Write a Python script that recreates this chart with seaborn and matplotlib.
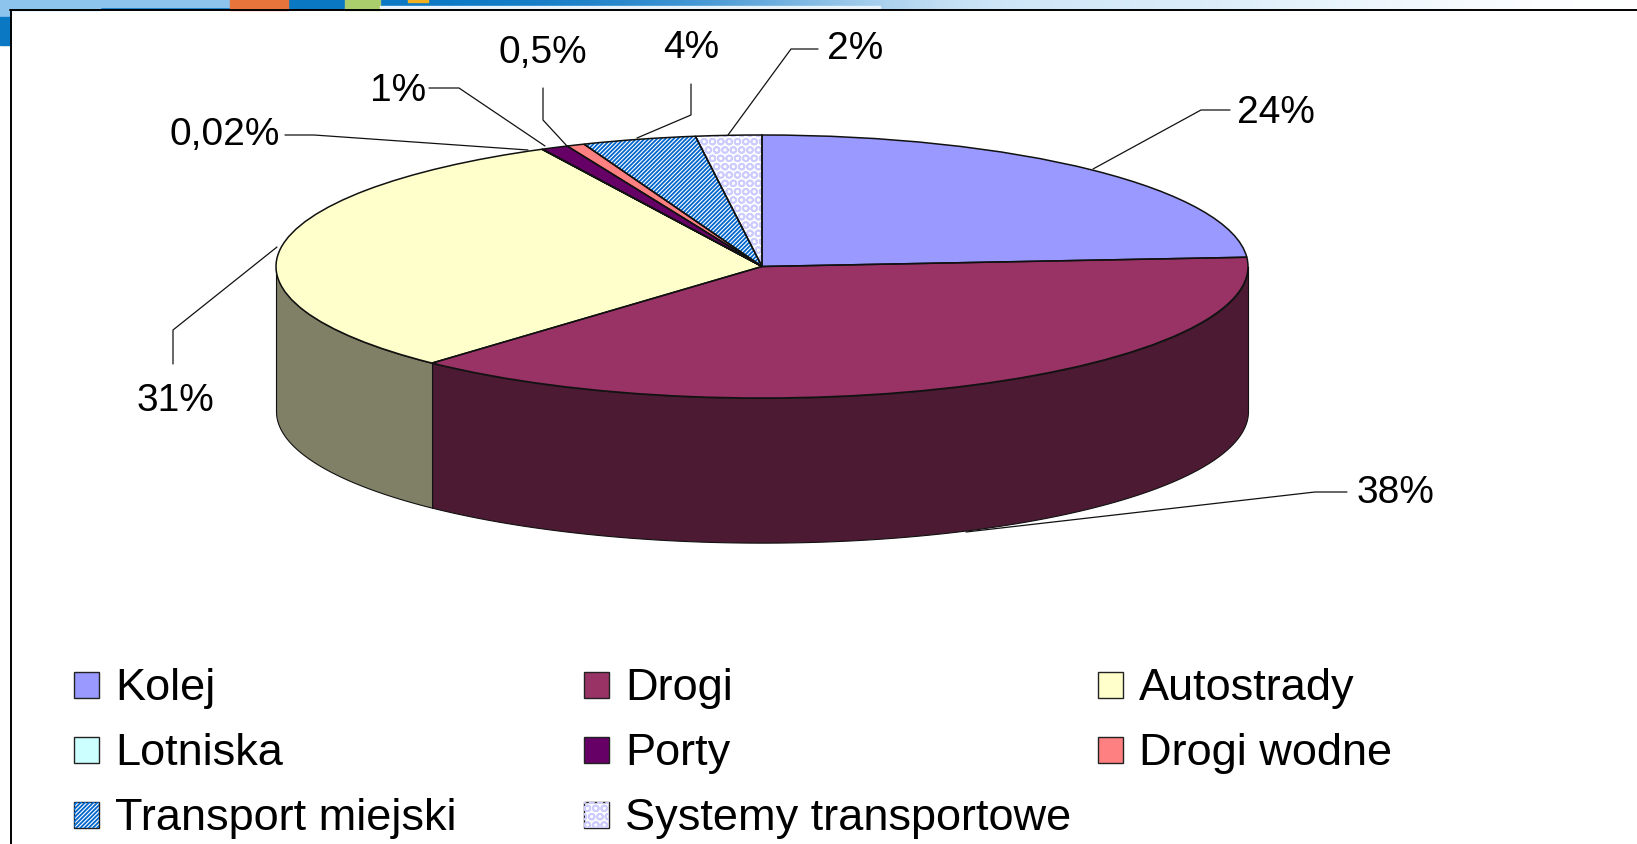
"""Pseudo-3D pie chart of transport spending shares."""
import numpy as np
import matplotlib.pyplot as plt
from matplotlib.colors import to_rgb
from matplotlib.patches import Rectangle
import seaborn as sns

WIDTH, HEIGHT = 1637, 845

CATEGORIES = ['Kolej', 'Drogi', 'Autostrady', 'Lotniska', 'Porty', 'Drogi wodne',
              'Transport miejski', 'Systemy transportowe']
# slice sizes, the printed labels are rounded
VALUES = [24, 38.2, 30.8, 0.02, 0.9, 0.6, 3.8, 2.2]
VALUE_LABELS = ['24%', '38%', '31%', '0,02%', '1%', '0,5%', '4%', '2%']
COLORS = ['#9999FF', '#993366', '#FFFFCC', '#CCFFFF', '#660066', '#FF8080', '#FFFFFF', '#FFFFFF']
HATCH_COLORS = [None, None, None, None, None, None, '#0066CC', '#CCCCFF']
HATCHES = [None, None, None, None, None, None, '////////', 'OO']

# label centre and leader line, in pixels from the top left
LABEL_POS = [(1276, 113), (1395, 493), (175, 401), (225, 135),
             (398, 91), (543, 53), (691, 48), (855, 49)]
LEADERS = [
    [(1093, 170), (1201, 111), (1230, 111)],
    [(966, 533), (1315, 493), (1347, 493)],
    [(277, 248), (173, 331), (173, 365)],
    [(285, 136), (314, 136), (528, 151)],
    [(429, 89), (459, 89), (545, 147)],
    [(543, 89), (543, 121), (567, 147)],
    [(691, 85), (691, 116), (637, 139)],
    [(728, 136), (791, 50), (818, 50)],
]
LEGEND_COLS = [74, 584, 1098]
LEGEND_ROWS = [686, 751, 816]

CENTER_X, CENTER_Y = 762, 267.5
RADIUS_X, RADIUS_Y = 486, 131.5
DEPTH = 1.10


def px_axes(fig):
    """Full figure axes working in image pixels."""
    ax = fig.add_axes([0, 0, 1, 1], zorder=3)
    ax.set_xlim(0, WIDTH)
    ax.set_ylim(HEIGHT, 0)
    ax.axis('off')
    ax.patch.set_alpha(0)
    return ax


def draw_banner(ax):
    """Slide background peeking out above and left of the chart frame."""
    ramp = np.array([[to_rgb(c) for c in ['#0B78C4', '#0B78C4', '#0B78C4', '#3D93D2', '#D2E8F8',
                                          '#D2E8F8', '#E8F4FC', '#FFFFFF']]])
    ax.imshow(ramp, extent=(0, WIDTH, 11, 0), aspect='auto', interpolation='bicubic', zorder=0)
    ax.add_patch(Rectangle((0, 0), 230, 8, color='#8CC4EE', zorder=1))
    ax.add_patch(Rectangle((0, 8), 100, 3, color='#8CC4EE', zorder=1))
    ax.add_patch(Rectangle((230, 0), 58, 11, color='#E8743B', zorder=1))
    ax.add_patch(Rectangle((345, 0), 35, 11, color='#A9CE6B', zorder=1))
    ax.add_patch(Rectangle((408, 0), 20, 3, color='#F0B020', zorder=1))
    ax.add_patch(Rectangle((380, 7), 500, 4, color='#E6F3FC', zorder=1))
    ax.add_patch(Rectangle((0, 11), 10, 7, color='#8CC4EE', zorder=1))
    ax.add_patch(Rectangle((0, 18), 10, 28, color='#0B78C4', zorder=1))
    ax.set_xlim(0, WIDTH)
    ax.set_ylim(HEIGHT, 0)
    ax.plot([10, WIDTH], [11, 11], color='black', lw=1.4, zorder=2)
    ax.plot([11, 11], [11, HEIGHT], color='black', lw=1.4, zorder=2)


def draw_pie(ax):
    """Top of the pie plus the darker side wall."""
    wedges, _ = ax.pie(VALUES, colors=COLORS, startangle=90, counterclock=False,
                       wedgeprops={'linewidth': 0, 'zorder': 3})
    for wedge, hatch, h_color in zip(wedges, HATCHES, HATCH_COLORS):
        if hatch:
            wedge.set_hatch(hatch)
            wedge.set_edgecolor(h_color)
    ax.pie(VALUES, colors=COLORS, startangle=90, counterclock=False,
           wedgeprops={'linewidth': 1.1, 'fill': False, 'edgecolor': '#111111', 'zorder': 4})

    # only the front half of the rim shows
    for wedge, color in zip(wedges, COLORS):
        lo, hi = max(wedge.theta1, -180), min(wedge.theta2, 0)
        if hi <= lo:
            continue
        theta = np.radians(np.linspace(lo, hi, 120))
        dark = np.array(to_rgb(color)) * 0.5
        ax.fill_between(np.cos(theta), np.sin(theta), np.sin(theta) - DEPTH,
                        facecolor=dark, edgecolor='#111111', linewidth=0.8, zorder=2)

    ax.set_aspect('auto')
    ax.set_xlim(-CENTER_X / RADIUS_X, (WIDTH - CENTER_X) / RADIUS_X)
    ax.set_ylim((CENTER_Y - HEIGHT) / RADIUS_Y, CENTER_Y / RADIUS_Y)


def draw_labels(ax):
    """Percent labels with leader lines."""
    for label, pos, leader in zip(VALUE_LABELS, LABEL_POS, LEADERS):
        ax.text(pos[0], pos[1], label, fontsize=28, ha='center', va='center', color='black')
        xs, ys = zip(*leader)
        ax.plot(xs, ys, color='#111111', lw=0.9)


def draw_legend(ax):
    """Legend laid out by hand in three fixed columns."""
    for i, name in enumerate(CATEGORIES):
        x = LEGEND_COLS[i % 3]
        y = LEGEND_ROWS[i // 3]
        ax.add_patch(Rectangle((x, y - 13), 25, 26, facecolor=COLORS[i], edgecolor='#222222', lw=1))
        if HATCHES[i]:
            ax.add_patch(Rectangle((x, y - 13), 25, 26, fill=False, hatch=HATCHES[i],
                                   edgecolor=HATCH_COLORS[i], lw=0))
        ax.text(x + 41, y + 3, name, fontsize=32.5, ha='left', va='center', color='black')


def main():
    """Main function."""
    sns.set_theme(style='white')
    plt.rcParams['font.family'] = ['Liberation Sans', 'DejaVu Sans']
    plt.rcParams['hatch.linewidth'] = 1.3

    fig = plt.figure(figsize=(WIDTH / 100, HEIGHT / 100), dpi=100, facecolor='white')
    bg_ax = fig.add_axes([0, 0, 1, 1], zorder=1)
    bg_ax.axis('off')
    draw_banner(bg_ax)

    pie_ax = fig.add_axes([0, 0, 1, 1], zorder=2)
    pie_ax.patch.set_alpha(0)
    draw_pie(pie_ax)

    top_ax = px_axes(fig)
    draw_labels(top_ax)
    draw_legend(top_ax)

    fig.savefig('out.png', dpi=100)
    plt.close(fig)


if __name__ == '__main__':
    main()
